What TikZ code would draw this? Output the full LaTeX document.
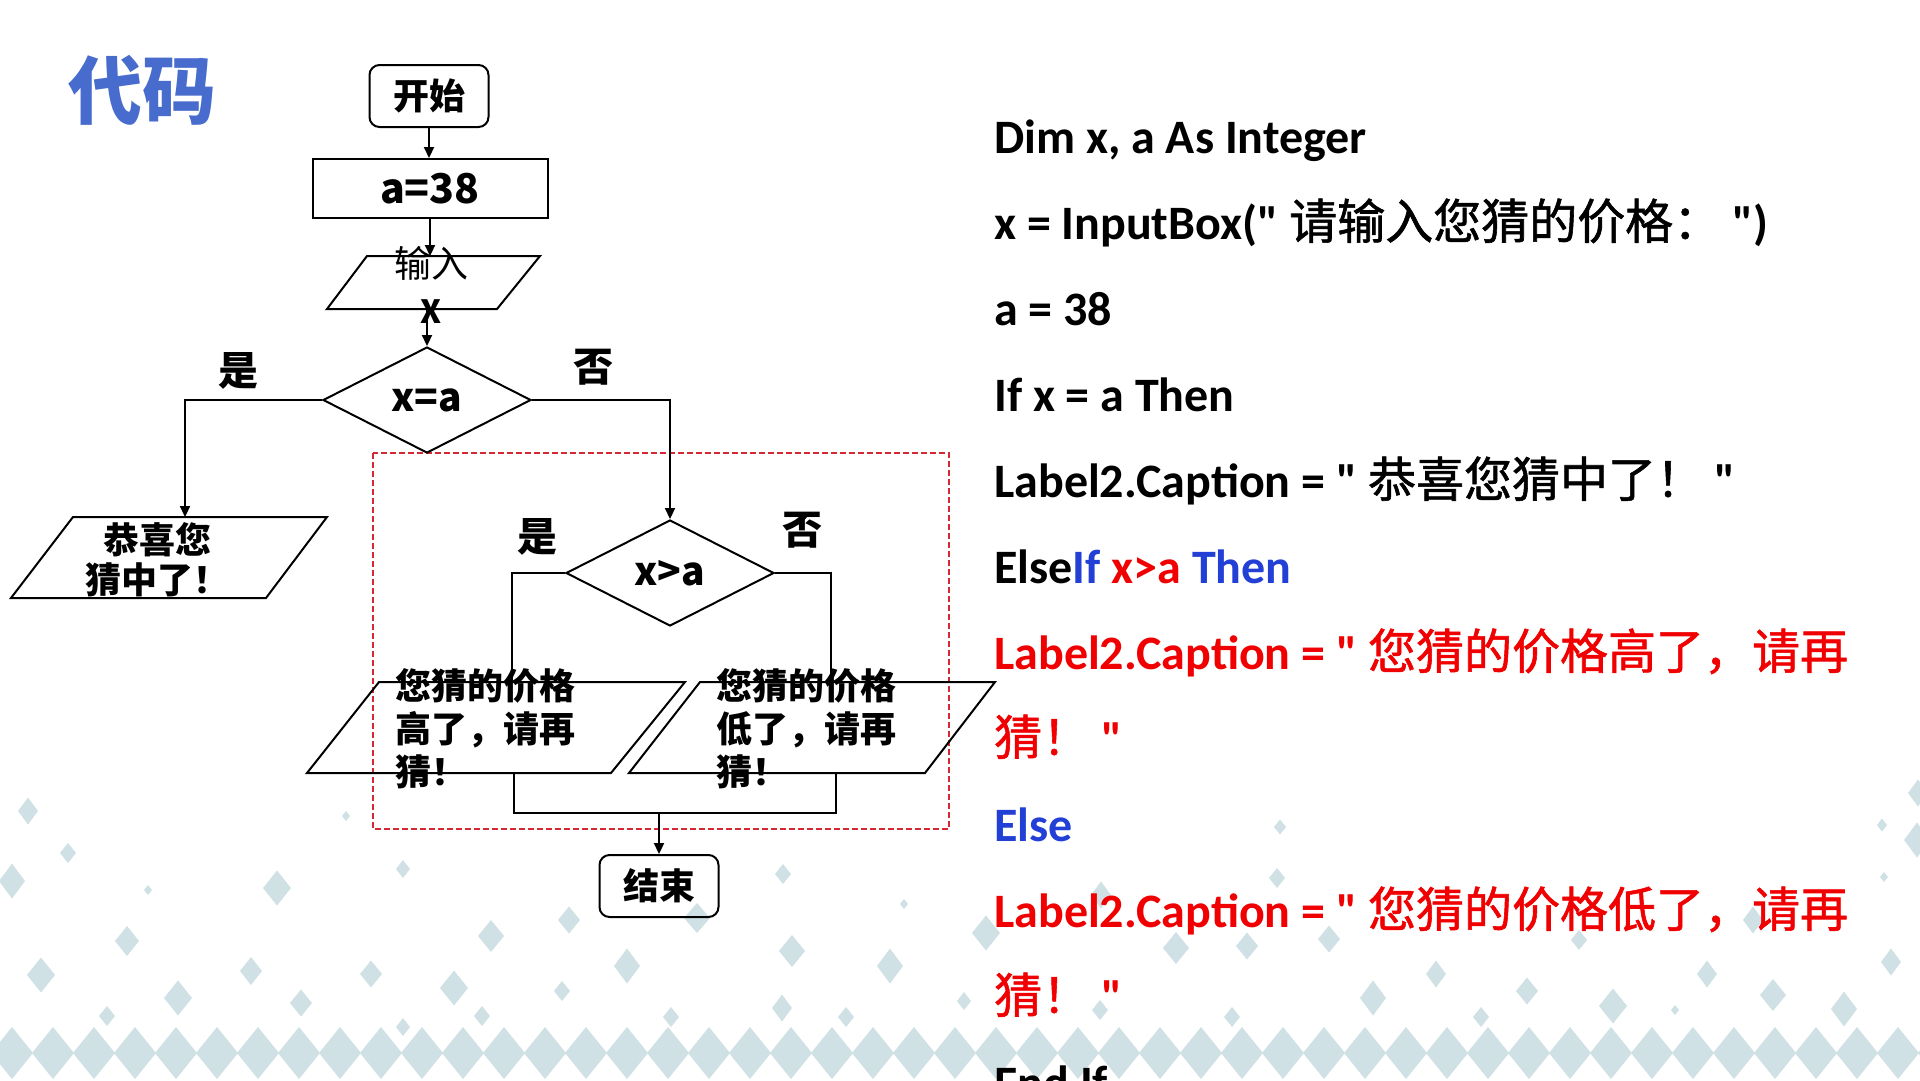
\documentclass[tikz,border=0pt]{standalone}
\usepackage{fontspec}
\setmainfont{Carlito}
\newfontfamily\codefont{Carlito}
\newfontfamily\cjk{Noto Sans CJK SC}
\newfontfamily\cjkcode{Noto Sans CJK SC}[FakeBold=1.2]
\usetikzlibrary{shapes.geometric,arrows.meta}

\definecolor{titleblue}{RGB}{72,108,206}
\definecolor{codeblue}{RGB}{35,64,214}
\definecolor{codered}{RGB}{240,0,0}
\definecolor{dashred}{RGB}{214,40,52}
\definecolor{bgdia}{RGB}{208,225,230}

\newcommand{\zh}[1]{{\cjkcode\mdseries #1}}

\tikzset{
  flow/.style={line width=2.2pt},
  term/.style={draw, line width=2pt, rounded corners=10pt, minimum width=119pt, minimum height=62pt, inner sep=0pt, font=\cjk\bfseries\fontsize{36}{40}\selectfont},
  procbox/.style={draw, line width=2pt, minimum width=235pt, minimum height=59pt, inner sep=0pt, font=\cjk\bfseries\fontsize{41}{46}\selectfont},
  ioline/.style={line width=2pt, line join=miter},
  decision/.style={draw, diamond, line width=2pt, minimum width=208pt, minimum height=106pt, inner sep=0pt, font=\cjk\bfseries\fontsize{39}{44}\selectfont},
  answer/.style={inner sep=0pt, font=\cjk\bfseries\fontsize{40}{44}\selectfont},
  iotext/.style={inner sep=0pt, font=\cjk\bfseries\fontsize{36}{43}\selectfont},
  codeline/.style={anchor=base west, inner sep=0pt, font=\codefont\bfseries\fontsize{48}{52}\selectfont},
  redframe/.style={draw=dashred, line width=1.6pt, dash pattern=on 6pt off 3pt},
}

\begin{document}
\begin{tikzpicture}[x=1pt, y=-1pt, >={Triangle[length=11pt,width=10pt]}]
\useasboundingbox (0,0) rectangle (1920,1080);
\fill[white] (0,0) rectangle (1920,1080);

% background diamonds
\foreach \i in {0,...,47}
  \fill[bgdia] ({12+41*\i-21},1053) -- ({12+41*\i},1027) -- ({12+41*\i+21},1053) -- ({12+41*\i},1079) -- cycle;
\foreach \x/\y/\w/\h in {28/811/20/27, 68/853/16/20, 12/881/26/35, 148/890/8/10, 277/888/28/35,
    346/816/8/10, 403/869/14/18, 127/941/24/30, 41/975/28/35, 251/971/22/28, 178/998/28/35,
    301/1003/22/27, 371/974/22/27, 107/1016/16/20, 403/1027/14/18, 454/988/28/35, 482/1016/16/20,
    491/936/26/32, 569/920/22/27, 562/991/16/20, 627/966/26/35, 783/874/16/20, 904/904/8/10,
    697/918/26/30, 792/951/26/32, 890/966/26/35, 986/933/28/35, 782/1008/20/27, 671/1017/16/20,
    846/1017/16/20, 964/1001/14/18, 1101/895/20/27, 1176/948/26/32, 1247/946/22/27, 1232/1017/16/20,
    1100/1010/16/20, 1277/878/16/20, 1329/939/22/27, 1436/974/20/27, 1373/998/26/35, 1527/991/22/27,
    1481/1017/16/20, 1579/940/16/20, 1613/1006/28/35, 1675/1010/8/10, 1707/974/20/27, 1773/995/26/32,
    1844/1009/26/35, 1891/962/20/27, 1884/877/8/10, 1917/840/26/35, 1753/920/20/27, 1918/793/20/27,
    1882/825/10/13, 1280/827/12/15}
  \fill[bgdia] ({\x-\w/2},\y) -- (\x,{\y-\h/2}) -- ({\x+\w/2},\y) -- (\x,{\y+\h/2}) -- cycle;

% title
\node[text=titleblue, font=\cjk\bfseries\fontsize{74}{80}\selectfont] (title) at (142,90) {代码};

% flowchart
\draw[redframe] (373,453) rectangle (949,829);

\node[term] (start) at (429,96) {开始};
\node[procbox] (init) at (430,188.5) {a=38};
\node[decision] (d1) at (427,400) {x=a};
\node[decision] (d2) at (670,573) {x>a};
\node[term] (stop) at (659,886) {结束};

% input / output boxes
\draw[ioline] (367,256) -- (540,256) -- (497,309) -- (327,309) -- cycle;
\draw[ioline] (73,517) -- (327,517) -- (266,598) -- (11,598) -- cycle;
\draw[ioline] (379,682) -- (685,682) -- (611,773) -- (307,773) -- cycle;
\draw[ioline] (700,682) -- (995,682) -- (925,773) -- (629,773) -- cycle;
\coordinate (in1top) at (431,256);
\coordinate (in1bot) at (427,309);
\coordinate (yes1top) at (185,517);
\coordinate (hitop) at (512,682);
\coordinate (hibot) at (514,773);
\coordinate (lotop) at (831,682);
\coordinate (lobot) at (836,773);
\coordinate (join) at (659,813);

\node[answer] (yesa) at (238,371) {是};
\node[answer] (noa) at (593,367) {否};
\node[answer] (yesb) at (537,537) {是};
\node[answer] (nob) at (802,530) {否};

\draw[flow,->] (start.south) -- (start.south |- init.north);
\draw[flow,->] (init.south) -- (init.south |- in1top);
\draw[flow,->] (in1bot -| d1.north) -- (d1.north);
\draw[flow,->] (d1.west) -| (yes1top);
\draw[flow,->] (d1.east) -| (d2.north);
\draw[flow] (d2.west) -| (hitop);
\draw[flow] (d2.east) -| (lotop);
\draw[flow] (hibot) |- (join) -| (lobot);
\draw[flow,->] (join) -- (stop);

\node[align=center, inner sep=0pt, font=\cjk\fontsize{37}{46}\selectfont] (in1txt) at (431,285) {输入\\{\bfseries\fontsize{32}{46}\selectfont X}};
\node[iotext, align=center, font=\cjk\bfseries\fontsize{36}{40}\selectfont] (yes1txt) at (157,560) {恭喜您\\猜中了！};
\node[iotext, align=left, anchor=west] (hitxt) at (395,729) {您猜的价格\\高了，请再\\猜！};
\node[iotext, align=left, anchor=west] (lotxt) at (716,729) {您猜的价格\\低了，请再\\猜！};

% code
\node[codeline] (dim) at (994,153) {Dim x, a As Integer};
\node[codeline] (inbox) at (994,239) {x = InputBox(" \zh{请输入您猜的价格：} ")};
\node[codeline] (seta) at (994,325) {a = 38};
\node[codeline] (iff) at (994,411) {If x = a Then};
\node[codeline] (cap1) at (994,497) {Label2.Caption = " \zh{恭喜您猜中了！} "};
\node[codeline] (elif) at (994,583) {Else\textcolor{codeblue}{If} \textcolor{codered}{x>a} \textcolor{codeblue}{Then}};
\node[codeline, text=codered] (cap2) at (994,669) {Label2.Caption = " \zh{您猜的价格高了，请再}};
\node[codeline, text=codered] (cap2b) at (994,755) {\zh{猜！} "};
\node[codeline, text=codeblue] (els) at (994,841) {Else};
\node[codeline, text=codered] (cap3) at (994,927) {Label2.Caption = " \zh{您猜的价格低了，请再}};
\node[codeline, text=codered] (cap3b) at (994,1013) {\zh{猜！} "};
\node[codeline] (endif) at (994,1099) {End If};
\end{tikzpicture}
\end{document}
